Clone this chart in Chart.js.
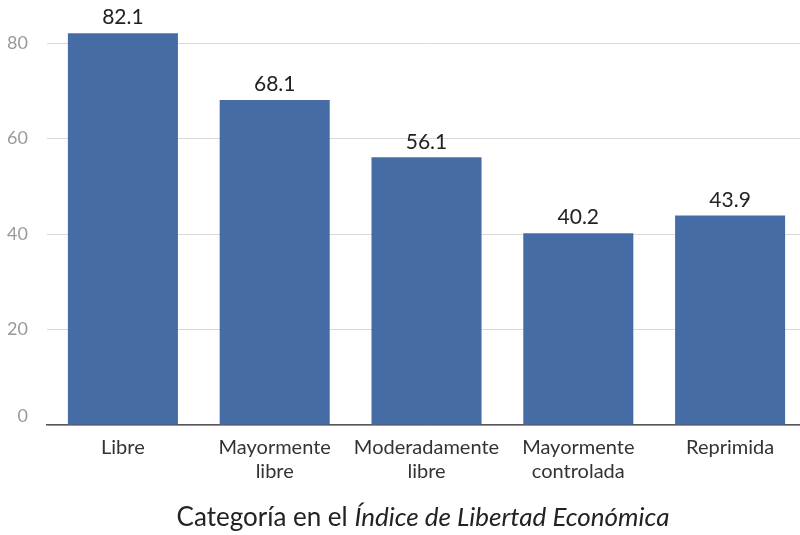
<!DOCTYPE html>
<html>
<head>
<meta charset="utf-8">
<script src="https://cdn.jsdelivr.net/npm/chart.js@4"></script>
<style>
  html, body { margin: 0; padding: 0; background: #fff; overflow: hidden; }
  #wrap { width: 806px; height: 535px; }
</style>
</head>
<body>
<div id="wrap"><canvas id="freedomChart"></canvas></div>
<script>
const categories = [
  ["Libre"],
  ["Mayormente", "libre"],
  ["Moderadamente", "libre"],
  ["Mayormente", "controlada"],
  ["Reprimida"],
];
const values = [82.1, 68.1, 56.1, 40.2, 43.9];
const yTicks = [0, 20, 40, 60, 80];
const titleNormal = "Categoría en el ";
const titleItalic = "Índice de Libertad Económica";

const fontFamily = "Lato, 'Open Sans', sans-serif";

// numbers on top of the bars
const valueLabels = {
  id: "valueLabels",
  afterDatasetsDraw(chart) {
    const ctx = chart.ctx;
    const meta = chart.getDatasetMeta(0);
    ctx.save();
    ctx.font = "21px " + fontFamily;
    ctx.fillStyle = "#222";
    ctx.textAlign = "center";
    ctx.textBaseline = "bottom";
    meta.data.forEach((bar, i) => {
      ctx.fillText(values[i].toFixed(1), bar.x, bar.y - 5);
    });
    ctx.restore();
  },
};

// y labels: centred on the lines, the zero one sits just above the axis
const yLabels = {
  id: "yLabels",
  afterDraw(chart) {
    const ctx = chart.ctx;
    const y = chart.scales.y;
    ctx.save();
    ctx.font = "18px " + fontFamily;
    ctx.fillStyle = "#9a9a9a";
    ctx.textAlign = "right";
    ctx.textBaseline = "middle";
    yTicks.forEach((v) => {
      const py = y.getPixelForValue(v) - (v === 0 ? 9 : 0);
      ctx.fillText(String(v), 28, py);
    });
    ctx.restore();
  },
};

const axisTitle = {
  id: "axisTitle",
  afterDraw(chart) {
    const ctx = chart.ctx;
    ctx.save();
    ctx.fillStyle = "#222";
    ctx.textBaseline = "middle";
    ctx.font = "26px " + fontFamily;
    const w1 = ctx.measureText(titleNormal).width;
    ctx.font = "italic 26px " + fontFamily;
    const w2 = ctx.measureText(titleItalic).width;
    const cx = 423;
    const x = cx - (w1 + w2) / 2;
    const y = 518;
    ctx.textAlign = "left";
    ctx.font = "26px " + fontFamily;
    ctx.fillText(titleNormal, x, y);
    ctx.font = "italic 26px " + fontFamily;
    ctx.fillText(titleItalic, x + w1, y);
    ctx.restore();
  },
};

const ctx = document.getElementById("freedomChart").getContext("2d");
const freedomChart = new Chart(ctx, {
  type: "bar",
  data: {
    labels: categories,
    datasets: [
      {
        data: values,
        backgroundColor: "#466ca6",
        barPercentage: 0.725,
        categoryPercentage: 1,
      },
    ],
  },
  options: {
    responsive: true,
    maintainAspectRatio: false,
    animation: false,
    layout: {
      padding: { top: 5, right: 0, bottom: 48, left: 0 },
    },
    plugins: {
      legend: { display: false },
      tooltip: { enabled: false },
    },
    scales: {
      x: {
        grid: { display: false },
        border: { color: "#555", width: 1.5 },
        ticks: {
          color: "#333",
          font: { family: fontFamily, size: 20 },
          padding: 3,
          maxRotation: 0,
        },
      },
      y: {
        min: 0,
        max: 88,
        afterBuildTicks: (axis) => {
          axis.ticks = yTicks.map((v) => ({ value: v }));
        },
        afterFit: (axis) => {
          axis.width = 47;
        },
        grid: {
          color: "#d9d9d9",
          lineWidth: 1,
          drawTicks: false,
        },
        border: { display: false },
        ticks: { display: false },
      },
    },
  },
  plugins: [valueLabels, yLabels, axisTitle],
});
</script>
</body>
</html>
